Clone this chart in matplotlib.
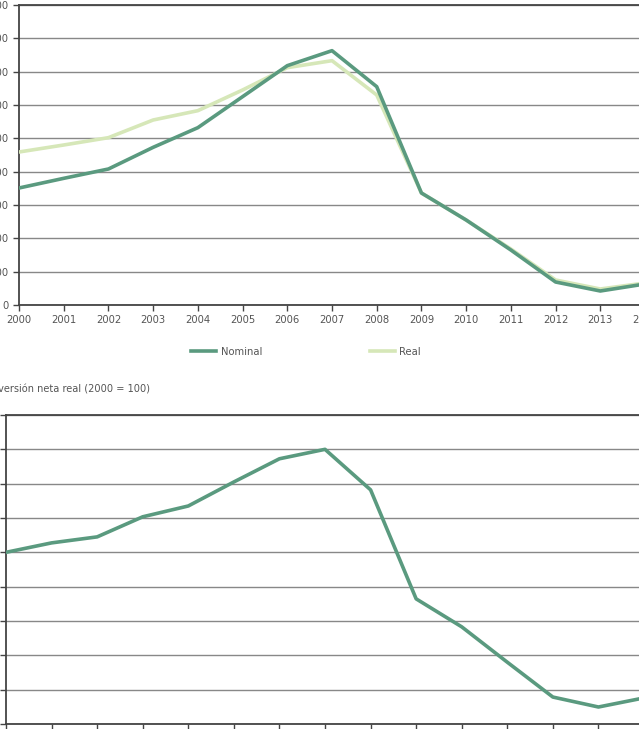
import matplotlib.pyplot as plt
from matplotlib import font_manager
import numpy as np

# data
years = list(range(2000, 2015))
nominal = [3510, 3800, 4080, 4730, 5320, 6250, 7180, 7630, 6550, 3360, 2550, 1650, 690, 420, 630]
real = [4590, 4800, 5020, 5550, 5830, 6450, 7120, 7330, 6300, 3360, 2550, 1680, 750, 480, 660]
index_real = [100, 105.5, 109, 120.7, 127, 141, 154.5, 160, 136.4, 72.9, 56.6, 36, 15.7, 9.9, 15.2]

top_ticks = list(range(0, 10000, 1000))
bottom_ticks = list(range(0, 200, 20))

dark_green = '#5a9a7f'
light_green = '#d6e7b8'
txt = '#555555'
grid_c = '#888888'
spine_c = '#444444'

# pick a narrow face if one is installed (the original uses a condensed font)
names = {f.name for f in font_manager.fontManager.ttflist}
stretch = 'normal'
if 'Liberation Sans Narrow' in names:
    plt.rcParams['font.family'] = ['Liberation Sans Narrow', 'DejaVu Sans']
elif any(f.name == 'DejaVu Sans' and f.stretch == 'condensed'
         for f in font_manager.fontManager.ttflist):
    plt.rcParams['font.family'] = ['DejaVu Sans']
    stretch = 'condensed'
else:
    plt.rcParams['font.family'] = ['DejaVu Sans']
plt.rcParams['font.stretch'] = stretch

W, H = 639, 729
fig = plt.figure(figsize=(W / 100, H / 100), dpi=100)
fig.set_facecolor('white')


def style(ax):
    for s in ax.spines.values():
        s.set_color(spine_c)
        s.set_linewidth(1.3)
    ax.tick_params(colors=spine_c, labelcolor=txt, labelsize=8, length=4, width=1)
    ax.yaxis.grid(True, color=grid_c, linewidth=1)
    ax.set_axisbelow(True)


# top chart: nominal vs real
ax1 = fig.add_axes([19 / W, 1 - 305 / H, (645 - 19) / W, 300 / H])
ax1.plot(years, real, color=light_green, linewidth=2.6, label='Real', zorder=3)
ax1.plot(years, nominal, color=dark_green, linewidth=2.6, label='Nominal', zorder=4)
ax1.set_xlim(2000, 2014)
ax1.set_ylim(0, 9000)
ax1.set_xticks(years)
ax1.set_yticks(top_ticks)
style(ax1)

handles, labels = ax1.get_legend_handles_labels()
leg = fig.legend(handles[::-1], labels[::-1], loc='center', bbox_to_anchor=(306 / W, 1 - 352 / H),
                 ncol=2, frameon=False, fontsize=8, columnspacing=9.7, handlelength=2.25,
                 handletextpad=0.4, labelcolor=txt)

fig.text(-11 / W, 1 - 390 / H, 'Inversión neta real (2000 = 100)', fontsize=7.8, color=txt,
         va='center', ha='left')

# bottom chart: real net investment index
ax2 = fig.add_axes([6 / W, 1 - 724 / H, (644 - 6) / W, 309 / H])
ax2.plot(years, index_real, color=dark_green, linewidth=2.6, zorder=3)
ax2.set_xlim(2000, 2014)
ax2.set_ylim(0, 180)
ax2.set_xticks(years)
ax2.set_yticks(bottom_ticks)
style(ax2)

fig.savefig('out.png', dpi=100)
